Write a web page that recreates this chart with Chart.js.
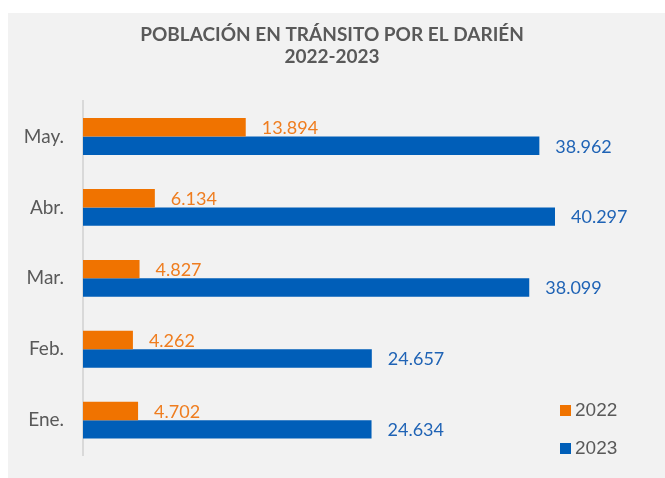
<!DOCTYPE html>
<html>
<head>
<meta charset="utf-8">
<script src="https://cdn.jsdelivr.net/npm/chart.js@4.4.1/dist/chart.umd.min.js"></script>
<style>
  html, body { margin: 0; padding: 0; background: #ffffff; }
  .panel { position: absolute; left: 8px; top: 13px; width: 657px; height: 465px; background: #f2f2f2; }
</style>
</head>
<body>
<div class="panel"><canvas id="chart" width="657" height="465"></canvas></div>
<script>
// datos
const months = ['Ene.', 'Feb.', 'Mar.', 'Abr.', 'May.'];
const values2022 = [4702, 4262, 4827, 6134, 13894];
const values2023 = [24634, 24657, 38099, 40297, 38962];
const seriesNames = ['2022', '2023'];
const colors = ['#f07300', '#005eb8'];
const labelColors = ['#ef7d1f', '#1f63b5'];

// 13894 -> "13.894"
const fmt = v => String(v).replace(/\B(?=(\d{3})+(?!\d))/g, '.');

// etiquetas de valor a la derecha de cada barra
const valueLabels = {
  id: 'valueLabels',
  afterDatasetsDraw(chart) {
    const ctx = chart.ctx;
    ctx.save();
    ctx.font = '18px Lato';
    ctx.textBaseline = 'middle';
    ctx.textAlign = 'left';
    chart.data.datasets.forEach((ds, i) => {
      ctx.fillStyle = labelColors[i];
      chart.getDatasetMeta(i).data.forEach((bar, j) => {
        ctx.fillText(fmt(ds.data[j]), bar.x + 16, bar.y + 1);
      });
    });
    ctx.restore();
  }
};

// leyenda abajo a la derecha
const sideLegend = {
  id: 'sideLegend',
  afterDraw(chart) {
    const ctx = chart.ctx;
    ctx.save();
    ctx.font = '19px "Liberation Sans"';
    ctx.textBaseline = 'middle';
    chart.data.datasets.forEach((ds, i) => {
      const y = 397 + i * 38;
      ctx.fillStyle = ds.backgroundColor;
      ctx.fillRect(552, y - 5, 11, 11);
      ctx.fillStyle = '#595959';
      ctx.fillText(ds.label, 567, y + 1);
    });
    ctx.restore();
  }
};

new Chart(document.getElementById('chart'), {
  type: 'bar',
  data: {
    labels: months,
    datasets: [
      { label: seriesNames[0], data: values2022, backgroundColor: colors[0] },
      { label: seriesNames[1], data: values2023, backgroundColor: colors[1] }
    ]
  },
  options: {
    indexAxis: 'y',
    responsive: false,
    animation: false,
    categoryPercentage: 0.52,
    barPercentage: 1,
    layout: { padding: { top: 11, right: 9, bottom: 5.5, left: 0 } },
    plugins: {
      legend: { display: false },
      tooltip: { enabled: false },
      title: {
        display: true,
        text: ['POBLACIÓN EN TRÁNSITO POR EL DARIÉN', '2022-2023'],
        color: '#595959',
        font: { family: 'Lato', size: 19, weight: 'bold', lineHeight: 1.16 },
        padding: { top: 0, bottom: 33 }
      }
    },
    scales: {
      x: { display: false, min: 0, max: 48920 },
      y: {
        reverse: true,
        grid: { display: false },
        border: { display: true, color: '#d9d9d9', width: 2 },
        ticks: { color: '#595959', font: { family: 'Lato', size: 19 }, padding: 11 },
        afterFit(scale) { scale.width = 75; }
      }
    }
  },
  plugins: [valueLabels, sideLegend]
});
</script>
</body>
</html>
